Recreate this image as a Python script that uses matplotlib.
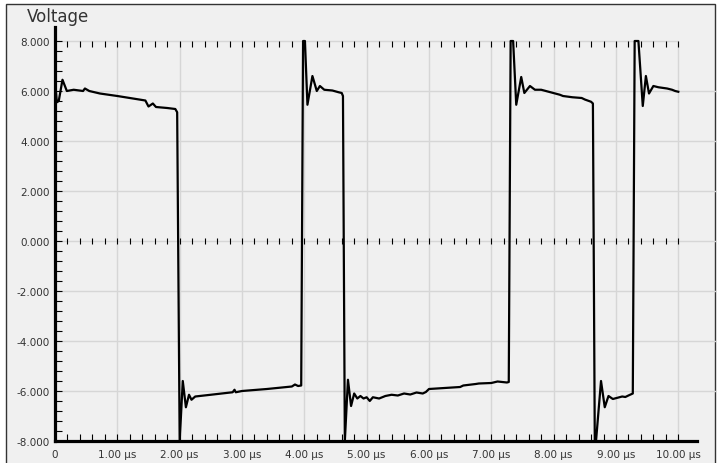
import matplotlib.pyplot as plt
import numpy as np
from matplotlib.patches import Rectangle

# time [us] / voltage [V]
time_us = [
    0.00, 0.03, 0.06, 0.12, 0.19, 0.30, 0.45, 0.48, 0.55, 0.72,
    1.00, 1.25, 1.45, 1.50, 1.57, 1.62, 1.80, 1.93, 1.96,
    2.00, 2.05, 2.10, 2.15, 2.19, 2.25, 2.50, 2.85, 2.88, 2.90,
    3.00, 3.40, 3.80, 3.85, 3.90, 3.95,
    3.98, 4.01, 4.05, 4.13, 4.20, 4.25, 4.32, 4.45, 4.55, 4.60, 4.62,
    4.65, 4.70, 4.75, 4.80, 4.85, 4.90, 4.95, 5.00, 5.05, 5.10, 5.20,
    5.30, 5.40, 5.50, 5.60, 5.70, 5.80, 5.90, 5.95, 6.00, 6.50, 6.55,
    6.75, 6.80, 7.00, 7.10, 7.25, 7.28,
    7.31, 7.35, 7.40, 7.48, 7.53, 7.62, 7.70, 7.80, 8.10, 8.15, 8.30,
    8.45, 8.50, 8.60, 8.63,
    8.66, 8.68, 8.76, 8.82, 8.88, 8.95, 9.10, 9.15, 9.20, 9.27,
    9.30, 9.36, 9.43, 9.48, 9.53, 9.60, 9.68, 9.82, 9.90, 9.95, 10.00,
]
voltage = [
    6.40, 5.55, 5.60, 6.45, 6.00, 6.05, 6.00, 6.10, 6.00, 5.90,
    5.80, 5.70, 5.62, 5.38, 5.50, 5.36, 5.32, 5.28, 5.15,
    -8.00, -5.60, -6.65, -6.15, -6.35, -6.22, -6.15, -6.05, -5.95, -6.05,
    -6.00, -5.92, -5.82, -5.74, -5.80, -5.78,
    8.00, 8.00, 5.45, 6.60, 6.00, 6.20, 6.05, 6.02, 5.95, 5.92, 5.80,
    -8.00, -5.55, -6.60, -6.10, -6.30, -6.20, -6.30, -6.25, -6.40, -6.25, -6.30,
    -6.20, -6.15, -6.18, -6.10, -6.14, -6.06, -6.10, -6.04, -5.92, -5.84, -5.78,
    -5.72, -5.70, -5.68, -5.62, -5.66, -5.64,
    8.00, 8.00, 5.45, 6.56, 5.92, 6.20, 6.05, 6.05, 5.85, 5.80, 5.75,
    5.72, 5.66, 5.57, 5.50,
    -8.00, -8.00, -5.60, -6.65, -6.20, -6.32, -6.22, -6.24, -6.18, -6.10,
    8.00, 8.00, 5.40, 6.60, 5.90, 6.20, 6.15, 6.10, 6.05, 6.00, 5.97,
]

x_major = np.arange(0, 11, 1)
x_labels = ["0"] + [f"{v:.2f} \u00b5s" for v in x_major[1:]]
y_major = np.arange(-8, 9, 2)
y_labels = [f"{v:.3f}" for v in y_major]

W, H = 719, 464
fig = plt.figure(figsize=(W / 100, H / 100), dpi=100)
fig.patch.set_facecolor("white")

# 外枠
fig.patches.append(
    Rectangle((6 / W, -0.01), (715 - 6) / W, (H - 5) / H + 0.01,
              transform=fig.transFigure, facecolor="#f0f0f0",
              edgecolor="#333333", linewidth=1.0, zorder=-10)
)

left, right = 55 / W, 697 / W
bottom, top = (H - 442) / H, (H - 28) / H
ax = fig.add_axes([left, bottom, right - left, top - bottom])
ax.set_facecolor("none")

x_max = 10.3
y_top = 8 + 14 / 25
ax.set_xlim(0, x_max)
ax.set_ylim(-8, y_top)

# グリッド
grid_color = "#d6d6d6"
ext = (715 - 55) / (697 - 55)
for yv in y_major[1:]:
    xmax = 10.0 / x_max if yv == 8 else ext
    ax.axhline(yv, xmin=0, xmax=xmax, color=grid_color, lw=1.0,
               clip_on=False, zorder=0)
ax.vlines(x_major[1:], -8, 8, color=grid_color, lw=1.0, zorder=0)

# 補助目盛り (0 と 8 の行)
minor_x = np.arange(0.2, 10.01, 0.2)
ax.vlines(minor_x, -0.13, 0.13, color="black", lw=0.8, zorder=1)
ax.vlines(minor_x, 8 - 0.22, 8, color="black", lw=0.8, zorder=1)

ax.plot(time_us, voltage, color="black", lw=1.6, zorder=3)

for side in ["top", "right"]:
    ax.spines[side].set_visible(False)
for side in ["left", "bottom"]:
    ax.spines[side].set_linewidth(2.3)
    ax.spines[side].set_color("black")

ax.set_xticks(x_major)
ax.set_xticklabels(x_labels)
ax.set_xticks(minor_x, minor=True)
ax.set_yticks(y_major)
ax.set_yticklabels(y_labels)
ax.set_yticks(np.arange(-8, 8.01, 0.4), minor=True)

ax.tick_params(axis="both", which="both", direction="in", color="black")
ax.tick_params(axis="x", which="both", length=5, width=0.8, pad=6,
               labelsize=7.5, labelcolor="#333333")
ax.tick_params(axis="y", which="both", length=5, width=0.8, pad=4,
               labelsize=7.5, labelcolor="#333333")

fig.text(27 / W, 1 - 17 / H, "Voltage", fontsize=12, color="#333333",
         ha="left", va="center")

fig.savefig("out.png", dpi=100)
plt.close(fig)
